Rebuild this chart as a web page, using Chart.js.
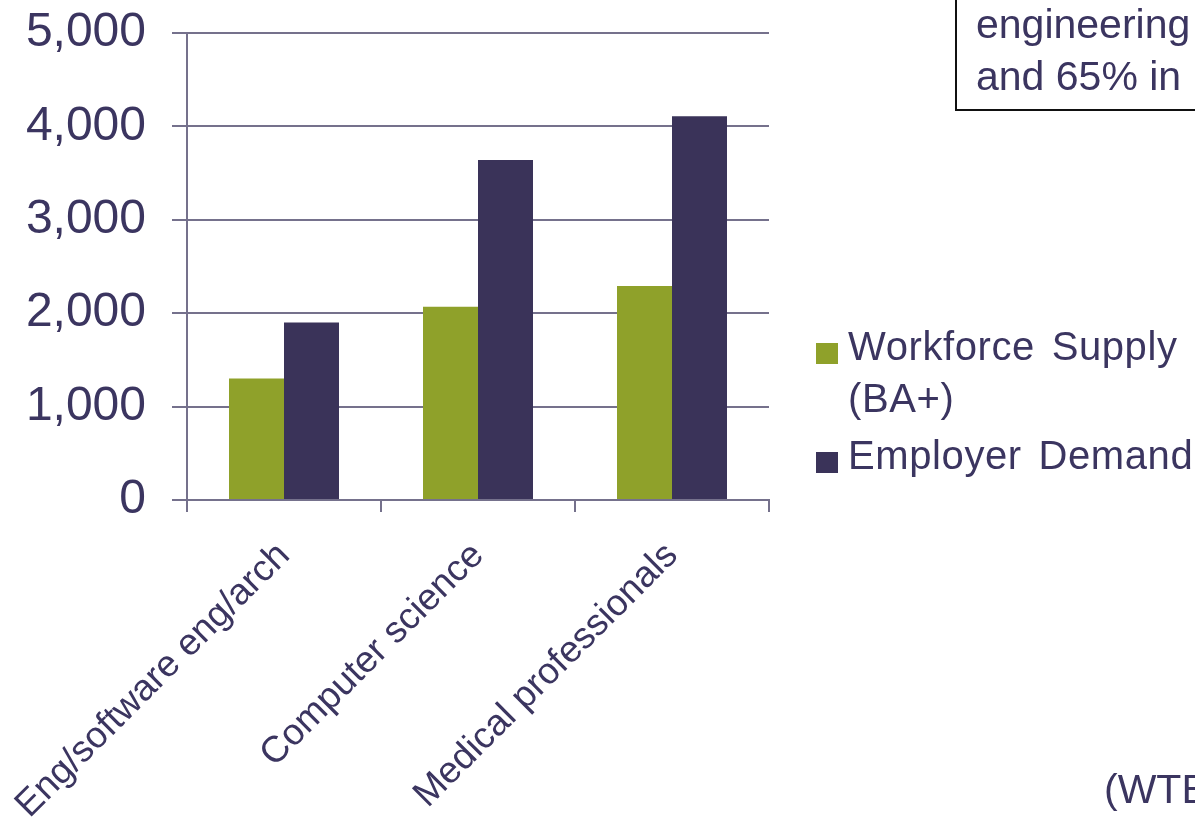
<!DOCTYPE html>
<html lang="en">
<head>
    <meta charset="UTF-8">
    <title>Workforce Supply vs Employer Demand</title>
    <script src="https://cdn.jsdelivr.net/npm/chart.js"></script>
    <style>
        body {
            margin: 0;
            padding: 0;
            background-color: #fff;
            font-family: Arial, "Liberation Sans", sans-serif;
            color: #3b3560;
            overflow: hidden;
        }

        .wrap {
            position: relative;
            width: 1195px;
            height: 821px;
        }

        .note {
            position: absolute;
            left: 955px;
            top: -4px;
            width: 300px;
            height: 115px;
            border: 2px solid #111;
            box-sizing: border-box;
            padding: 0 0 0 19px;
            font-size: 41px;
            line-height: 52px;
            white-space: nowrap;
        }

        .source {
            position: absolute;
            left: 1104px;
            top: 766px;
            font-size: 41px;
            white-space: nowrap;
        }

        .legend {
            position: absolute;
            left: 816px;
            top: 320px;
            font-size: 40px;
            line-height: 52px;
            letter-spacing: 0.6px;
            word-spacing: 5px;
            white-space: nowrap;
        }

        .legend .item {
            position: relative;
            padding-left: 32px;
            margin-bottom: 5px;
        }

        .legend .box {
            position: absolute;
            left: 0;
            top: 23px;
            width: 22px;
            height: 21px;
        }
    </style>
</head>
<body>
    <div class="wrap">
        <canvas id="jobsChart" width="1195" height="821"></canvas>
        <div class="note">engineering<br>and 65% in</div>
        <div class="legend" id="legend"></div>
        <div class="source">(WTB</div>
    </div>

    <script>
        const categories = ['Eng/software eng/arch', 'Computer science', 'Medical professionals'];
        const seriesNames = ['Workforce Supply (BA+)', 'Employer Demand'];
        const supplyValues = [1300, 2070, 2290];
        const demandValues = [1900, 3640, 4110];
        const yTicks = [0, 1000, 2000, 3000, 4000, 5000];

        const green = '#8fa12a';
        const navy = '#3a3359';
        const textColor = '#3b3560';
        const lineColor = '#75718c';

        function noPadding(scale) {
            scale.paddingTop = 0;
            scale.paddingBottom = 0;
            scale.paddingLeft = 0;
            scale.paddingRight = 0;
        }

        const ctx = document.getElementById('jobsChart').getContext('2d');
        const chart = new Chart(ctx, {
            type: 'bar',
            data: {
                labels: categories,
                datasets: [
                    {
                        label: seriesNames[0],
                        data: supplyValues,
                        backgroundColor: green,
                        borderWidth: 0,
                    },
                    {
                        label: seriesNames[1],
                        data: demandValues,
                        backgroundColor: navy,
                        borderWidth: 0,
                    },
                ],
            },
            options: {
                responsive: false,
                animation: false,
                categoryPercentage: 0.567,
                barPercentage: 1.0,
                layout: {
                    padding: { top: 33, right: 426, left: 0, bottom: 0 },
                },
                plugins: {
                    legend: { display: false },
                    tooltip: { enabled: false },
                },
                scales: {
                    y: {
                        min: 0,
                        max: 5000,
                        afterBuildTicks: function(scale) {
                            scale.ticks = yTicks.map(v => ({ value: v }));
                        },
                        afterFit: function(scale) {
                            scale.width = 187;
                            noPadding(scale);
                        },
                        ticks: {
                            color: textColor,
                            padding: 26,
                            font: { family: 'Arial, "Liberation Sans"', size: 48 },
                            callback: v => v.toLocaleString('en-US'),
                        },
                        grid: {
                            color: lineColor,
                            lineWidth: 2,
                            tickLength: 15,
                        },
                        border: { color: lineColor, width: 2 },
                    },
                    x: {
                        afterFit: function(scale) {
                            scale.height = 321;
                            noPadding(scale);
                        },
                        ticks: {
                            color: textColor,
                            minRotation: 45,
                            maxRotation: 45,
                            padding: 22,
                            font: { family: 'Arial, "Liberation Sans"', size: 37 },
                        },
                        grid: {
                            offset: true,
                            drawOnChartArea: false,
                            color: lineColor,
                            lineWidth: 2,
                            tickLength: 12,
                        },
                        border: { color: lineColor, width: 2 },
                    },
                },
            },
        });

        // html legend so the first label can wrap like the original
        const legendEl = document.getElementById('legend');
        chart.data.datasets.forEach(function(ds) {
            const item = document.createElement('div');
            item.className = 'item';
            const box = document.createElement('span');
            box.className = 'box';
            box.style.backgroundColor = ds.backgroundColor;
            item.appendChild(box);
            const words = ds.label.split(' (');
            item.appendChild(document.createTextNode(words[0]));
            if (words.length > 1) {
                item.appendChild(document.createElement('br'));
                item.appendChild(document.createTextNode('(' + words[1]));
            }
            legendEl.appendChild(item);
        });
    </script>
</body>
</html>
